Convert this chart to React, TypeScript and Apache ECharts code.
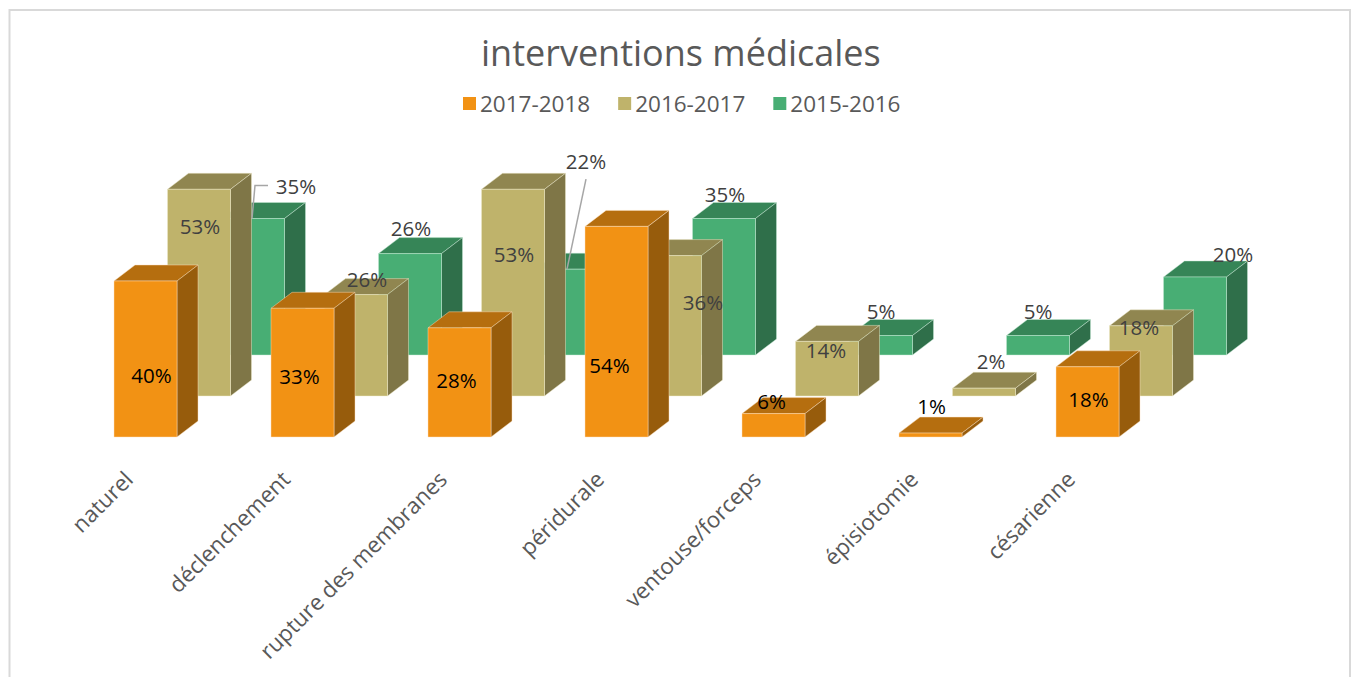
import React, { useEffect, useRef } from "react";
import * as echarts from "echarts";

const categories = ["naturel", "déclenchement", "rupture des membranes", "péridurale", "ventouse/forceps", "épisiotomie", "césarienne"];
const values2017 = [40, 33, 28, 54, 6, 1, 18];
const values2016 = [53, 26, 53, 36, 14, 2, 18];
const values2015 = [35, 26, 22, 35, 5, 5, 20];
const seriesNames = ["2017-2018", "2016-2017", "2015-2016"];

const FONT = "Open Sans";
const BAR_W = 63;
const DEPTH_X = 21;
const DEPTH_Y = 16;

// label placement relative to the top centre of each bar's front face
const offsets2017 = [[6, 94], [-3, 68], [-3, 52], [-7, 139], [-2, -13], [1, -27], [1, 32]];
const offsets2016 = [[1, 37], [11, -16], [1, 65], [33, 46], [-1, 9], [7, -27], [-2, 1]];
const offsets2015 = [[43, -33], [1, -26], [19, -108], [1, -25], [0, -25], [0, -25], [38, -23]];

const barSeries = (name: string, values: number[], shiftX: number, shiftY: number, colors: string[], edge: string) => ({
  type: "custom",
  name,
  z: 2,
  clip: false,
  itemStyle: { color: colors[0] },
  encode: { x: 0, y: 1 },
  data: values.map((v, i) => [i, v]),
  renderItem: (_p: any, api: any) => {
    const i = api.value(0);
    const [cx, y0] = api.coord([i, 0]);
    const [, y1] = api.coord([i, api.value(1)]);
    const l = cx + shiftX - BAR_W / 2;
    const r = l + BAR_W;
    const b = y0 + shiftY;
    const t = y1 + shiftY;
    const stroke = { stroke: edge, lineWidth: 1 };
    return {
      type: "group",
      children: [
        { type: "polygon", shape: { points: [[l, t], [r, t], [r + DEPTH_X, t - DEPTH_Y], [l + DEPTH_X, t - DEPTH_Y]] }, style: { fill: colors[1], ...stroke } },
        { type: "polygon", shape: { points: [[r, t], [r + DEPTH_X, t - DEPTH_Y], [r + DEPTH_X, b - DEPTH_Y], [r, b]] }, style: { fill: colors[2], ...stroke } },
        { type: "polygon", shape: { points: [[l, t], [r, t], [r, b], [l, b]] }, style: { fill: colors[0], ...stroke } },
      ],
    };
  },
});

const labelSeries = (name: string, values: number[], shiftX: number, shiftY: number, offs: number[][], color: string, leaders: Record<number, number[][]>) => ({
  type: "custom",
  name,
  z: 6,
  clip: false,
  silent: true,
  encode: { x: 0, y: 1 },
  data: values.map((v, i) => [i, v]),
  renderItem: (_p: any, api: any) => {
    const i = api.value(0);
    const v = api.value(1);
    const [cx] = api.coord([i, 0]);
    const [, y1] = api.coord([i, v]);
    const x = cx + shiftX;
    const y = y1 + shiftY;
    const children: any[] = [
      {
        type: "text",
        x: x + offs[i][0],
        y: y + offs[i][1],
        style: { text: `${v}%`, fill: color, font: `20.5px "${FONT}"`, align: "center", verticalAlign: "middle" },
      },
    ];
    if (leaders[i]) {
      children.unshift({
        type: "polyline",
        shape: { points: leaders[i].map(([a, b]) => [x + a, y + b]) },
        style: { stroke: "#A6A6A6", lineWidth: 1.5, fill: "none" },
      });
    }
    return { type: "group", children };
  },
});

export default function App() {
  const ref = useRef<HTMLDivElement>(null);
  useEffect(() => {
    document.body.style.margin = "0";
    const chart = echarts.init(ref.current!, null, { renderer: "svg" });
    chart.setOption({
      animation: false,
      backgroundColor: "#fff",
      title: {
        text: "interventions médicales",
        left: 476,
        top: 29,
        textStyle: { color: "#595959", fontSize: 36, fontWeight: "normal", fontFamily: FONT },
      },
      legend: {
        data: seriesNames,
        left: 458,
        top: 87,
        icon: "rect",
        itemWidth: 13,
        itemHeight: 13,
        itemGap: 28,
        selectedMode: false,
        textStyle: { color: "#595959", fontSize: 22.5, fontFamily: FONT, padding: [0, 0, 0, -1] },
      },
      grid: { left: 67, width: 1099, top: 47, height: 390 },
      xAxis: {
        type: "category",
        data: categories,
        axisLine: { show: false },
        axisTick: { show: false },
        axisLabel: { interval: 0, rotate: 45, margin: 21, padding: [0, 24, 0, 0], color: "#595959", fontSize: 22.3, fontFamily: FONT },
      },
      yAxis: { type: "value", min: 0, max: 100, show: false },
      graphic: [
        {
          type: "polyline",
          silent: true,
          shape: { points: [[9.5, 677], [9.5, 10], [1350, 10], [1350, 677]] },
          style: { stroke: "#D9D9D9", lineWidth: 2, fill: "none" },
        },
      ],
      series: [
        barSeries(seriesNames[2], values2015, 107.5, -82, ["#48AE74", "#368557", "#2F6F4A"], "rgba(200,235,215,0.45)"),
        barSeries(seriesNames[1], values2016, 53.5, -41, ["#BFB36B", "#908650", "#7F7647"], "rgba(240,235,205,0.45)"),
        barSeries(seriesNames[0], values2017, 0, 0, ["#F29214", "#B56E0F", "#975C0C"], "rgba(252,225,190,0.45)"),
        labelSeries("labels 2015-2016", values2015, 107.5, -82, offsets2015, "#404040", {
          0: [[-1, 0], [2, -33], [15, -33]],
          2: [[0, 0], [19, -90]],
        }),
        labelSeries("labels 2016-2017", values2016, 53.5, -41, offsets2016, "#404040", {}),
        labelSeries("labels 2017-2018", values2017, 0, 0, offsets2017, "#000000", {}),
      ],
    });
    return () => chart.dispose();
  }, []);
  return <div ref={ref} style={{ position: "absolute", left: 0, top: 0, width: 1356, height: 677 }} />;
}
